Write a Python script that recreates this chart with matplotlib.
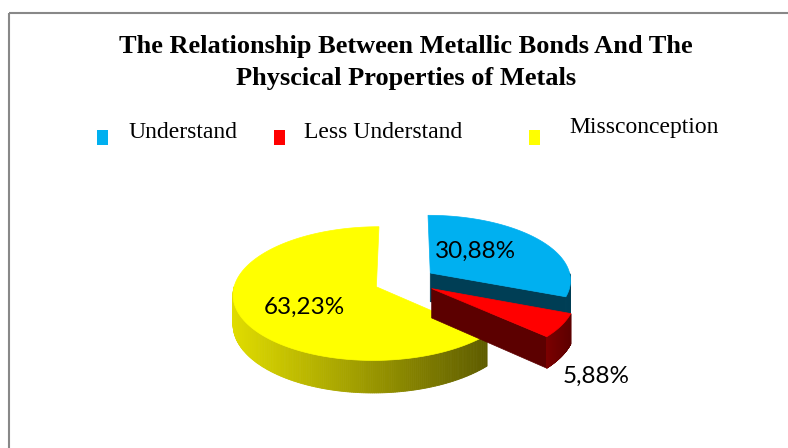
import numpy as np
import matplotlib.pyplot as plt
from matplotlib.patches import Polygon, Rectangle
from matplotlib.colors import to_rgb

# data
labels = ['Understand', 'Less Understand', 'Missconception']
values = [30.88, 5.88, 63.23]
value_text = ['30,88%', '5,88%', '63,23%']
top_colors = ['#00b0f0', '#ff0000', '#ffff00']
side_colors = [('#00506e', '#003e55'), ('#7a0000', '#5c0000'), ('#e0dc00', '#5e5c00')]

# pie geometry (pixels), simple perspective
cx, cy = 405, 281
rx, ry = 141, 65
height = 29
persp = 0.1
explode = 0.22
label_pos = [(476, 251), (596, 376), (304, 307)]

fig = plt.figure(figsize=(7.88, 4.48), dpi=100)
ax = fig.add_axes([0, 0, 1, 1])
ax.set_xlim(0, 788)
ax.set_ylim(448, 0)
ax.axis('off')


def proj(X, Y, Z=0.0):
    s = 1.0 / (1.0 + persp * Y)
    return cx + rx * X * s, cy - ry * Y * s + height * Z * s


def lerp(c1, c2, f):
    a, b = np.array(to_rgb(c1)), np.array(to_rgb(c2))
    return tuple(a + (b - a) * f)


total = sum(values)
angles = []
a = np.pi / 2
for v in values:
    span = v / total * 2 * np.pi
    angles.append((a, a - span))
    a -= span

# back slice first
for i in [0, 2, 1]:
    a0, a1 = angles[i]
    mid = (a0 + a1) / 2
    ox, oy = explode * np.cos(mid), explode * np.sin(mid)
    dark = side_colors[i][1]

    # cut faces that look towards the viewer
    for ang, vis in [(a0, np.cos(a0) < -1e-6), (a1, np.cos(a1) > 1e-6)]:
        if vis:
            ex_, ey_ = ox + np.cos(ang), oy + np.sin(ang)
            quad = [proj(ox, oy), proj(ex_, ey_), proj(ex_, ey_, 1), proj(ox, oy, 1)]
            ax.add_patch(Polygon(quad, closed=True, fc=dark, ec=dark, lw=0.5))

    # outer side in thin strips for the shading
    t = np.linspace(a0, a1, 300)
    X = ox + np.cos(t)
    Y = oy + np.sin(t)
    xs, ys = proj(X, Y)
    xb, yb = proj(X, Y, 1)
    xmin, xmax = xs.min(), xs.max()
    for k in range(len(t) - 1):
        if np.sin(t[k]) >= 0 and np.sin(t[k + 1]) >= 0:
            continue
        f = ((xs[k] + xs[k + 1]) / 2 - xmin) / max(xmax - xmin, 1)
        col = lerp(side_colors[i][0], side_colors[i][1], f)
        ax.add_patch(Polygon([(xs[k], ys[k]), (xs[k + 1], ys[k + 1]),
                              (xb[k + 1], yb[k + 1]), (xb[k], yb[k])],
                             closed=True, fc=col, ec=col, lw=0.6))

    # top face
    pts = [proj(ox, oy)] + list(zip(xs, ys))
    ax.add_patch(Polygon(pts, closed=True, fc=top_colors[i], ec=top_colors[i], lw=0.5))

for i in range(3):
    ax.text(label_pos[i][0], label_pos[i][1], value_text[i], ha='center', va='center',
            fontsize=17.5, family='Lato', color='black')

# title
ax.text(406, 47, 'The Relationship Between Metallic Bonds And The', ha='center', va='center',
        fontsize=19, family='Liberation Serif', weight='bold')
ax.text(406, 79, 'Physcical Properties of Metals', ha='center', va='center',
        fontsize=19, family='Liberation Serif', weight='bold')

# legend
leg_box_x = [97, 274, 529]
leg_text_x = [128, 304, 569]
leg_text_y = [132, 133, 127]
for i in range(3):
    ax.add_patch(Rectangle((leg_box_x[i], 130), 11, 15, fc=top_colors[i], ec='none'))
    ax.text(leg_text_x[i], leg_text_y[i], labels[i], ha='left', va='center',
            fontsize=17, family='Liberation Serif')

# chart border
ax.plot([9, 788], [13, 13], color='#888888', lw=1.5, solid_capstyle='butt')
ax.plot([9, 9], [13, 448], color='#888888', lw=1.5, solid_capstyle='butt')

fig.savefig('out.png', dpi=100)
